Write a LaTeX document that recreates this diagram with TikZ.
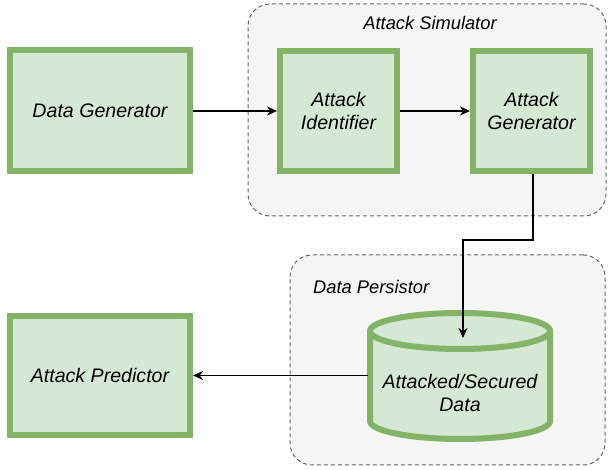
\documentclass[tikz,border=0pt]{standalone}
\usepackage{fontspec}
\setmainfont{Liberation Sans}
\usetikzlibrary{arrows.meta}
\definecolor{gfill}{HTML}{D5E8D4}
\definecolor{gline}{HTML}{82B366}
\definecolor{cfill}{HTML}{F5F5F5}
\definecolor{cline}{HTML}{666666}
\begin{document}
\begin{tikzpicture}[x=1pt,y=1pt,
  box/.style={draw=gline,fill=gfill,line width=6pt,inner sep=0pt,align=center,
    font=\fontsize{19.6}{23}\selectfont\itshape},
  container/.style={draw=cline,fill=cfill,dash pattern=on 4pt off 3pt,line width=1pt,rounded corners=22pt,inner sep=0pt},
  clabel/.style={font=\fontsize{18.3}{22}\selectfont\itshape,inner sep=0pt},
  conn/.style={line width=1.3pt,-{Stealth[length=10pt,width=9pt]}}]
\useasboundingbox[fill=white] (0,0) rectangle (608,470);
% containers
\node[container,minimum width=358pt,minimum height=212pt] (sim) at (427,360) {};
\node[clabel] (simlabel) at (430,447) {Attack Simulator};
\node[container,minimum width=315pt,minimum height=210pt] (pers) at (447.5,110) {};
\node[clabel,anchor=west] (perslabel) at (313,183) {Data Persistor};
% boxes
\node[box,minimum width=180pt,minimum height=121pt] (dg) at (100,359) {Data Generator};
\node[box,minimum width=117pt,minimum height=120pt] (ai) at (338.5,359) {Attack\\Identifier};
\node[box,minimum width=117pt,minimum height=120pt] (ag) at (531.5,359) {Attack\\Generator};
\node[box,minimum width=180pt,minimum height=119pt] (ap) at (100,94.5) {Attack Predictor};
% cylinder
\filldraw[draw=gline,fill=gfill,line width=6pt]
  (370,139) -- (370,49) arc[start angle=180,end angle=360,x radius=90pt,y radius=18pt]
  -- (550,139) arc[start angle=0,end angle=180,x radius=90pt,y radius=18pt] -- cycle;
\draw[draw=gline,line width=6pt] (370,139) arc[start angle=180,end angle=360,x radius=90pt,y radius=18pt];
\node[inner sep=0pt,minimum width=183pt,minimum height=129pt] (cyl) at (460,94) {};
\node[inner sep=0pt,align=center,font=\fontsize{19.6}{23}\selectfont\itshape] (cyltext) at (460,77) {Attacked/Secured\\Data};
\coordinate (bend1) at (533,230);
\coordinate (bend2) at (463,230);
\coordinate (tip) at (463,132);
% connectors
\draw[conn] (dg.east) -- (ai.west);
\draw[conn] (ai.east) -- (ag.west);
\draw[conn] (ag.south -| bend1) -- (bend1) -- (bend2) -- (tip);
\draw[conn] (cyl.west |- ap.east) -- (ap.east);
\end{tikzpicture}
\end{document}
